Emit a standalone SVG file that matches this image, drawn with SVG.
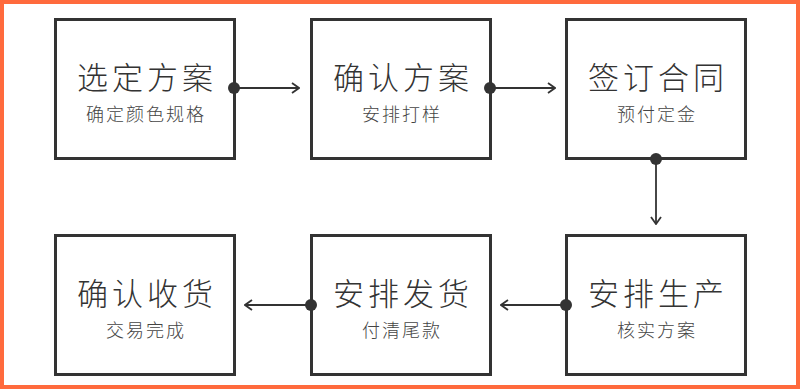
<svg xmlns="http://www.w3.org/2000/svg" width="800" height="389" viewBox="0 0 800 389">
<defs>
<style>
.box{fill:#fff;stroke:#333;stroke-width:3}
.t{font-family:"Noto Sans CJK SC","Noto Sans",sans-serif;fill:#333;text-anchor:middle;dominant-baseline:central}
.t1{font-size:31px;letter-spacing:4px;font-weight:300}
.t2{font-size:18px;letter-spacing:2px;fill:#444;font-weight:300}
.ln{fill:none;stroke:#333;stroke-width:1.8}
.dot{fill:#333}
</style>
<marker id="arr" viewBox="0 0 10 12" refX="9" refY="6" markerWidth="10" markerHeight="12" markerUnits="userSpaceOnUse" orient="auto">
<path d="M2,1 L9,6 L2,11" fill="none" stroke="#333" stroke-width="1.8"/>
</marker>
</defs>
<rect x="0" y="0" width="800" height="389" fill="#fff"/>
<rect x="2" y="2" width="796" height="385" fill="none" stroke="#FF6A3D" stroke-width="4"/>
<g id="n1"><rect class="box" x="55.5" y="19.5" width="179" height="139"/><text class="t t1" x="147" y="75">选定方案</text><text class="t t2" x="146" y="113">确定颜色规格</text></g>
<g id="n2"><rect class="box" x="311.5" y="19.5" width="179" height="139"/><text class="t t1" x="403" y="75">确认方案</text><text class="t t2" x="402" y="113">安排打样</text></g>
<g id="n3"><rect class="box" x="566.5" y="19.5" width="179" height="139"/><text class="t t1" x="658" y="75">签订合同</text><text class="t t2" x="657" y="113">预付定金</text></g>
<g id="n4"><rect class="box" x="566.5" y="235.5" width="179" height="139"/><text class="t t1" x="658" y="291">安排生产</text><text class="t t2" x="657" y="329">核实方案</text></g>
<g id="n5"><rect class="box" x="311.5" y="235.5" width="179" height="139"/><text class="t t1" x="403" y="291">安排发货</text><text class="t t2" x="402" y="329">付清尾款</text></g>
<g id="n6"><rect class="box" x="55.5" y="235.5" width="179" height="139"/><text class="t t1" x="147" y="291">确认收货</text><text class="t t2" x="146" y="329">交易完成</text></g>
<g id="connectors">
<path class="ln" d="M234,88 H299" marker-end="url(#arr)"/><circle class="dot" cx="234" cy="88" r="6"/>
<path class="ln" d="M490,88 H555" marker-end="url(#arr)"/><circle class="dot" cx="490" cy="88" r="6"/>
<path class="ln" d="M656,159 V224" marker-end="url(#arr)"/><circle class="dot" cx="656" cy="159" r="6"/>
<path class="ln" d="M566,305 H501" marker-end="url(#arr)"/><circle class="dot" cx="566" cy="305" r="6"/>
<path class="ln" d="M311,305 H245" marker-end="url(#arr)"/><circle class="dot" cx="311" cy="305" r="6"/>
</g>
</svg>
